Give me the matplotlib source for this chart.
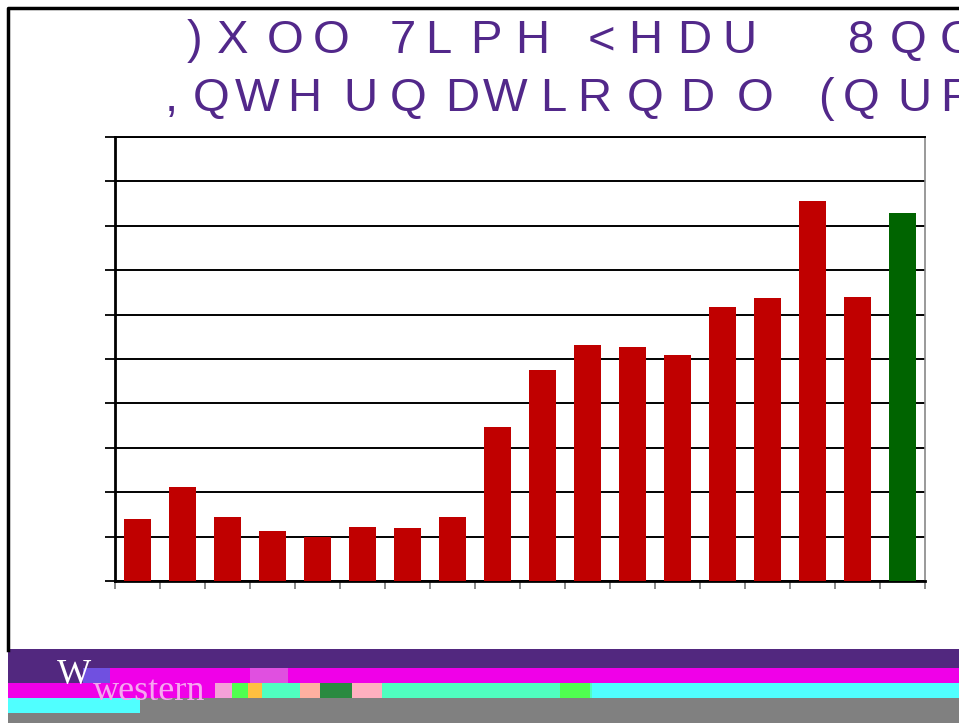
import matplotlib
matplotlib.use('Agg')
import matplotlib.pyplot as plt
from matplotlib.patches import Rectangle
from matplotlib.lines import Line2D
import numpy as np

W, H = 959, 723

# bar heights in gridline units (axis has no labels)
values = [1.40, 2.12, 1.44, 1.13, 0.99, 1.22, 1.19, 1.44, 3.47,
          4.75, 5.32, 5.27, 5.09, 6.17, 6.37, 8.56, 6.40, 8.29]
colors = ['#c00000'] * 17 + ['#006400']

# title exactly as shown on the slide (one glyph per position)
line1 = ")XOO7LPH<HDU8QG"
line1_x = [187, 217, 267, 313, 390, 425, 470, 515, 588, 628, 677, 722, 848, 890, 940]
line2 = ",QWHUQDWLRQDO(QUR"
line2_x = [165, 193, 235, 287, 343, 390, 445, 483, 540, 577, 627, 680, 737, 818, 843, 897, 940]
title_color = '#52288a'

fig = plt.figure(figsize=(W / 100, H / 100), dpi=100)


def fx(x):
    return x / W


def fy(y):
    return 1 - y / H


def rect(x0, y0, x1, y1, color):
    fig.add_artist(Rectangle((fx(x0), fy(y1)), (x1 - x0) / W, (y1 - y0) / H,
                             transform=fig.transFigure, facecolor=color,
                             edgecolor='none', zorder=1))


# title
for ch, x in zip(line1, line1_x):
    fig.text(fx(x), fy(53), ch, fontsize=34, color=title_color,
             family='Liberation Sans', ha='left', va='baseline')
for ch, x in zip(line2, line2_x):
    fig.text(fx(x), fy(111), ch, fontsize=34, color=title_color,
             family='Liberation Sans', ha='left', va='baseline')

# chart
ax = fig.add_axes([fx(115), fy(581), (925 - 115) / W, (581 - 137) / H])
x = np.arange(len(values))
ax.bar(x, values, width=0.58, color=colors, zorder=3)
ax.set_xlim(-0.5, len(values) - 0.5)
ax.set_ylim(0, 10)
ax.set_yticks(np.arange(0, 11, 1))
ax.set_xticks(np.arange(-0.5, len(values), 1))
ax.set_yticklabels([])
ax.set_xticklabels([])
ax.yaxis.grid(True, color='black', linewidth=1.4, zorder=0)
ax.tick_params(axis='y', direction='out', length=7, width=1.3, color='black')
ax.tick_params(axis='x', direction='out', length=6, width=1.2, color='#777777')
ax.spines['left'].set_linewidth(2)
ax.spines['bottom'].set_linewidth(2)
ax.spines['top'].set_linewidth(1.4)
ax.spines['right'].set_color('#888888')
ax.spines['right'].set_linewidth(1.2)
ax.set_axisbelow(True)

# slide frame
fig.add_artist(Line2D([fx(8), fx(8), fx(W)], [fy(650), fy(8), fy(8)],
                      transform=fig.transFigure, color='black', linewidth=2.5))

# footer bands
rect(8, 649, W, 668, '#52287f')
rect(8, 668, W, 683, '#52287f')
rect(110, 668, W, 683, '#f000e8')
rect(8, 683, 215, 698, '#f000e8')
rect(215, 683, 232, 698, '#f4a0d8')
rect(232, 683, 248, 698, '#50ff50')
rect(248, 683, 262, 698, '#ffc040')
rect(262, 683, 300, 698, '#50ffc0')
rect(300, 683, 320, 698, '#ffb0a0')
rect(320, 683, 352, 698, '#2a8a40')
rect(352, 683, 382, 698, '#ffb0c0')
rect(382, 683, 592, 698, '#50ffc0')
rect(560, 683, 590, 698, '#50ff50')
rect(592, 683, W, 698, '#50ffff')
rect(8, 698, 140, 713, '#50ffff')
rect(140, 698, W, 723, '#808080')
rect(8, 713, 140, 723, '#808080')
rect(83, 668, 110, 683, '#7050e0')
rect(250, 668, 288, 683, '#e050e0')

fig.text(fx(57), fy(684), 'W', fontsize=26, color='white',
         family='Liberation Serif', ha='left', va='baseline', zorder=2)
fig.text(fx(93), fy(700), 'western', fontsize=26, color='#f6a6f0',
         family='Liberation Serif', ha='left', va='baseline', zorder=2)

plt.savefig('out.png', dpi=100)
